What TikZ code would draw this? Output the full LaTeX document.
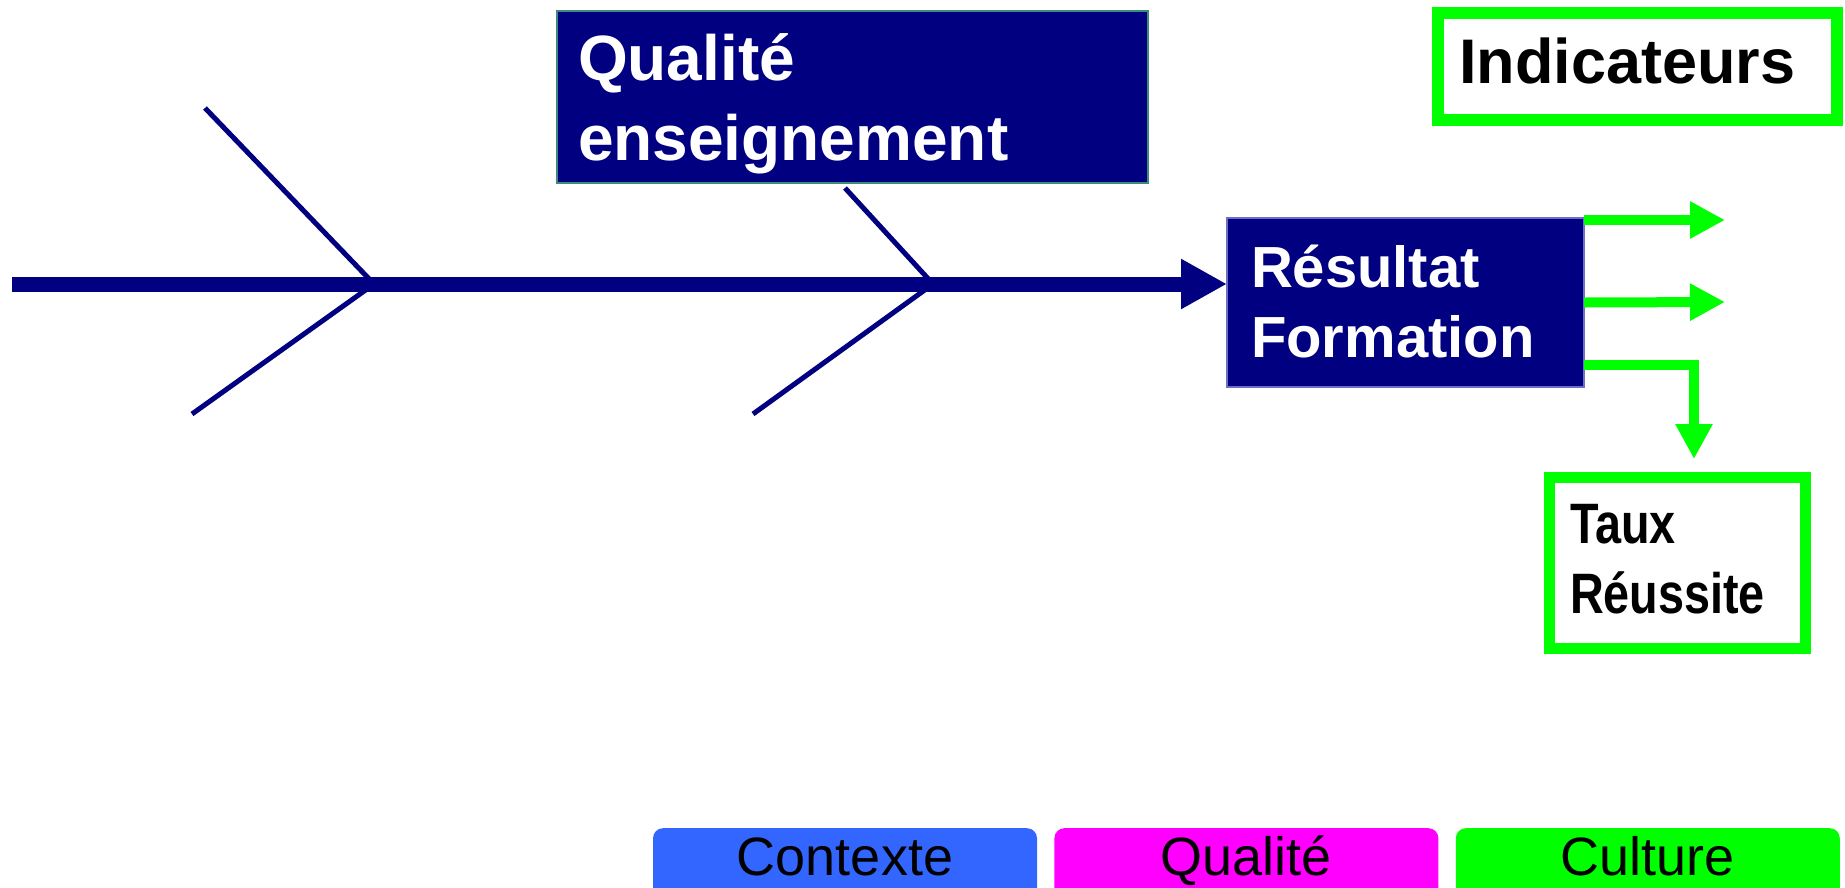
\documentclass[tikz,border=0pt]{standalone}
\usepackage{fontspec}
\setmainfont{Liberation Sans}
\newfontfamily\narrowsans[FakeStretch=0.82]{Liberation Sans}
\usetikzlibrary{arrows.meta,positioning}
\definecolor{navyfish}{RGB}{0,0,128}
\definecolor{tealedge}{RGB}{60,140,125}
\definecolor{lavedge}{RGB}{110,110,200}
\definecolor{indgreen}{RGB}{0,255,0}
\definecolor{ctxblue}{RGB}{51,102,255}
\definecolor{qualmag}{RGB}{255,0,255}

\begin{document}
\begin{tikzpicture}[x=1pt,y=-1pt,
                    bone/.style={navyfish,line width=5pt},
                    spine/.style={navyfish,line width=15pt,-{Triangle[length=46pt,width=47pt]}},
                    ind/.style={indgreen,line width=10pt,-{Triangle[length=35pt,width=35pt]}},
                    causebox/.style={draw=tealedge,fill=navyfish,text=white,line width=1.5pt,
                            anchor=north west,outer sep=0pt,align=left,inner ysep=0pt},
                    indbox/.style={draw=indgreen,fill=white,text=black,
                            anchor=north west,outer sep=0pt,align=left,inner ysep=0pt},
                    legend/.style={rounded corners=10pt,minimum width=384pt,anchor=north,
                            inner ysep=0pt,text height=47pt,text depth=30pt,
                            font=\fontsize{54}{60}\selectfont}]
  \useasboundingbox (0,0) rectangle (1845,887);

  \node[causebox,text width=549pt,inner xsep=21pt,text height=69pt,text depth=103pt,
        font=\bfseries\fontsize{64}{80}\selectfont] (qens) at (557,11) {Qualité\\enseignement};
  \node[causebox,draw=lavedge,text width=309pt,inner xsep=24pt,text height=69pt,text depth=100pt,
        font=\bfseries\fontsize{58}{70}\selectfont] (res) at (1227,218) {Résultat\\Formation};
  \node[indbox,line width=12pt,text width=357pt,inner xsep=21pt,text height=70pt,text depth=37pt,
        font=\bfseries\fontsize{63}{76}\selectfont] (indic) at (1438,13) {Indicateurs};
  \node[indbox,line width=11pt,text width=215pt,inner xsep=20.5pt,text height=65.5pt,text depth=105.5pt,
        font=\narrowsans\bfseries\fontsize{57}{70}\selectfont] (taux) at (1549.5,477.5) {Taux\\Réussite};

  \node[legend,fill=ctxblue] (ctx) at (845,828) {Contexte};
  \node[legend,fill=qualmag,right=17pt of ctx] (qlt) {Qualité};
  \node[legend,fill=indgreen,right=17pt of qlt] (cult) {Culture};

  \coordinate (tail) at (12,284);
  \coordinate (b1top) at (205,108);
  \coordinate (b1hub) at (374,284);
  \coordinate (b1low) at (192,414);
  \coordinate (b2top) at (845,188);
  \coordinate (b2hub) at (933,284);
  \coordinate (b2low) at (753,414);
  \coordinate (ind1) at (1725,220);
  \coordinate (ind2) at (1725,302);
  \coordinate (ind3) at (1694,459);

  \draw[bone] (b1top) -- (b1hub) -- (b1low);
  \draw[bone] (b2top) -- (b2hub) -- (b2low);
  \draw[spine] (tail) -- (tail -| res.west);

  \draw[ind] ([yshift=-2pt]res.north east) -- (ind1);
  \draw[ind] (res.east) -- (ind2);
  \draw[ind] ([yshift=-62pt]res.east) -| (ind3);
\end{tikzpicture}
\end{document}
